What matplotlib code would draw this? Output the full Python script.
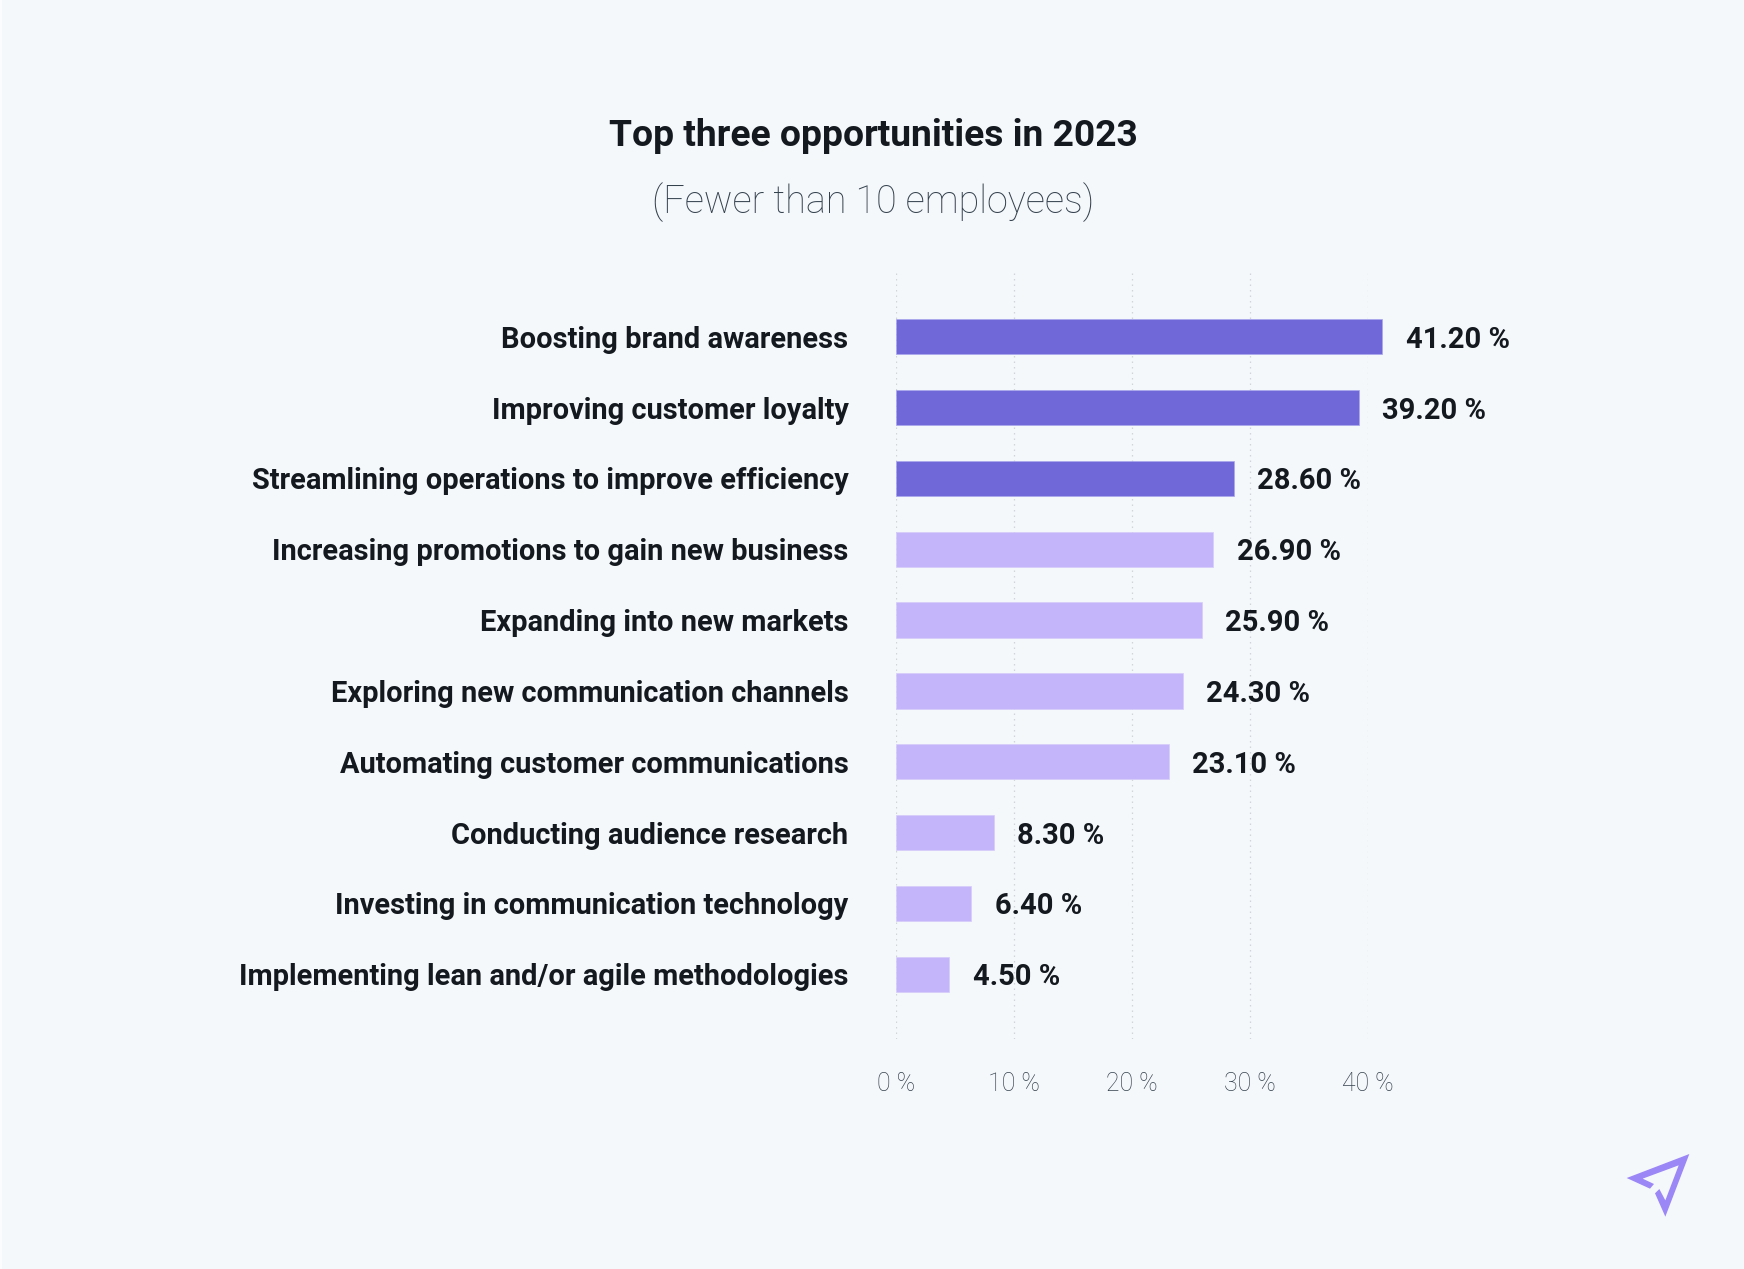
import matplotlib.pyplot as plt
from matplotlib.patches import Polygon, Rectangle
from matplotlib.transforms import IdentityTransform

W, H = 1744, 1269
bg = '#F5F8FB'
plt.rcParams['font.family'] = ['Roboto', 'DejaVu Sans']

labels = ['Boosting brand awareness', 'Improving customer loyalty',
          'Streamlining operations to improve efficiency',
          'Increasing promotions to gain new business',
          'Expanding into new markets', 'Exploring new communication channels',
          'Automating customer communications', 'Conducting audience research',
          'Investing in communication technology',
          'Implementing lean and/or agile methodologies']
values = [41.2, 39.2, 28.6, 26.9, 25.9, 24.3, 23.1, 8.3, 6.4, 4.5]
colors = ['#7067D9'] * 3 + ['#C4B5FA'] * 7
edges = ['#A9A5EC'] * 3 + ['#D6CCFB'] * 7

fig = plt.figure(figsize=(W / 100, H / 100), dpi=100, facecolor=bg)
# axes placed in pixels: x 895.8-1368.2, y 272-1039
ax = fig.add_axes([895.8 / W, 1 - 1039 / H, (1368.2 - 895.8) / W, (1039 - 272) / H])
ax.set_facecolor('none')

y = list(range(len(values)))
bars = ax.barh(y, values, height=0.5, color=colors, edgecolor=edges, linewidth=0.5, zorder=3)
for b in bars:
    b.set_clip_on(False)
ax.set_xlim(0, 40)
ax.set_ylim(9.913, -0.913)

for i, v in enumerate(values):
    ax.annotate(f'{v:.2f} %', (v, i), xytext=(17, 0), textcoords='offset points',
                va='center_baseline', ha='left', fontsize=21, fontweight='bold',
                color='#14191F', annotation_clip=False)

ax.set_yticks(y)
ax.set_yticklabels(labels, fontsize=20.9, fontweight='bold', color='#14191F')
ax.set_xticks([0, 10, 20, 30, 40])
ax.set_xticklabels(['0 %', '10 %', '20 %', '30 %', '40 %'], fontsize=17.9,
                   fontweight='light', color='#34424E')
ax.tick_params(axis='y', length=0, pad=34)
ax.tick_params(axis='x', length=0, pad=23.6)
ax.grid(axis='x', color='#D0D5DA', linestyle=(0, (1.2, 3.2)), linewidth=0.9, zorder=0)
ax.grid(axis='y', visible=False)
for s in ax.spines.values():
    s.set_visible(False)

fig.text(873 / W, 1 - 135.5 / H, 'Top three opportunities in 2023', ha='center', va='center',
         fontsize=26.8, fontweight='bold', color='#14191F')
fig.text(873 / W, 1 - 202.5 / H, '(Fewer than 10 employees)', ha='center', va='center',
         fontsize=27.2, fontweight='light', color='#34424E')

# thin light strip on the left edge
fig.add_artist(Rectangle((0, 0), 1.5, H, facecolor='#FBFCFE', edgecolor='none',
                         transform=IdentityTransform()))

# logo
logo = [(200, 174), (388, 102), (316, 290), (285, 220), (298, 207), (316, 241),
        (356, 136), (248, 176), (282, 192), (270, 206)]
fig.add_artist(Polygon([(1560 + a / 3, H - (1120 + b / 3)) for a, b in logo], closed=True,
                       facecolor='#9B87F5', edgecolor='none', transform=IdentityTransform()))

fig.savefig('out.png', dpi=100, facecolor=bg)
